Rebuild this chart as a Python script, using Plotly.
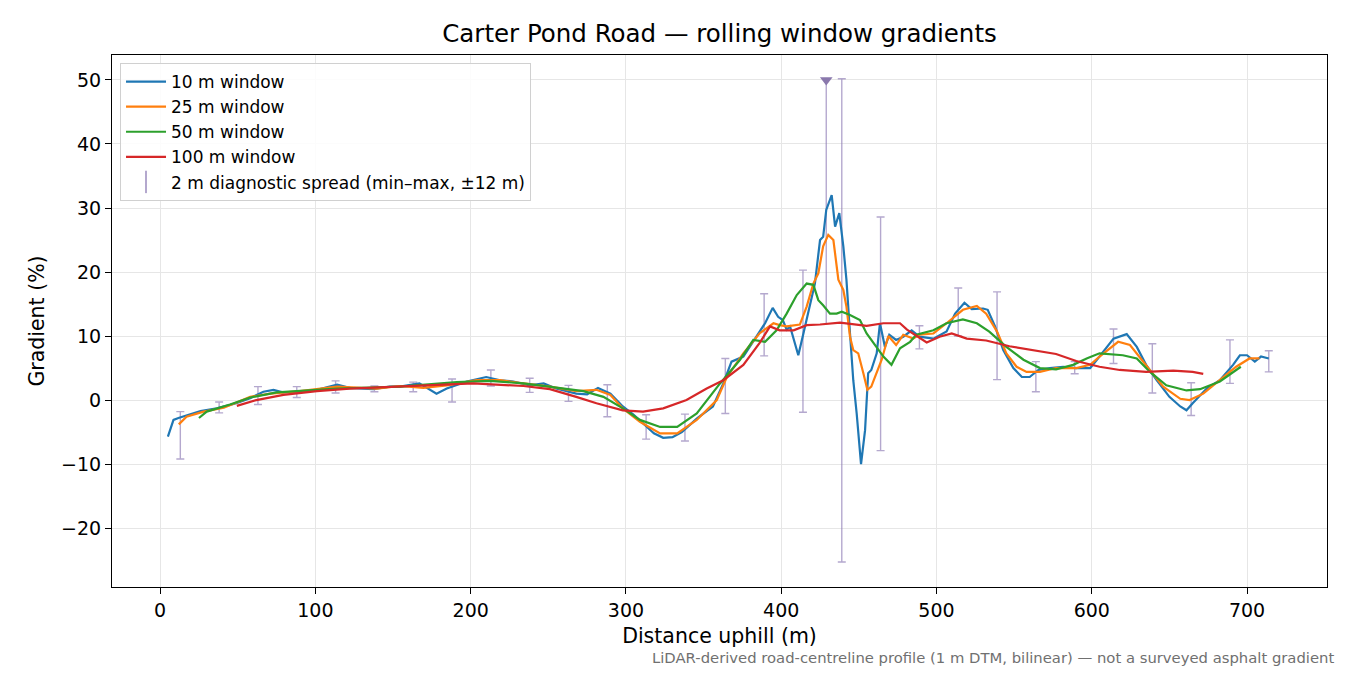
import plotly.graph_objects as go

# rolling window gradients (%)
x_10 = [5, 8.6, 11.8, 19, 26, 36.5, 49, 58, 66.5, 73, 79, 90, 101, 114, 122, 137, 148, 154.5,
        167, 178, 184.6, 197.5, 210, 219, 227.5, 238, 247, 255, 268, 275, 282, 290, 298, 305,
        312, 318, 324, 330, 336, 345.6, 356, 362.7, 368, 375.6, 384, 389.6, 394.5, 398, 401,
        403.5, 405.7, 408, 411, 414.3, 418.5, 421.7, 425, 427, 429, 432.5, 434.7, 437.4, 440,
        442, 444.3, 446.4, 448.6, 451.4, 454, 456, 458, 461.5, 463.6, 466.8, 469.6, 474, 478.6,
        484, 489, 498, 506.5, 512, 518, 522.7, 530, 533, 537.7, 543, 549.5, 555, 560, 565.6,
        573, 581.6, 590, 599, 605, 614, 622.5, 629, 635, 641.8, 650, 657, 661, 665, 674, 682.5,
        691, 695.4, 700, 705, 709, 714]
g_10 = [-5.7, -3.1, -2.8, -2.3, -1.7, -1.3, -0.5, 0.3, 1.3, 1.6, 1.2, 1.3, 1.6, 2.4, 1.9, 1.7,
        2.1, 2.1, 2.6, 1.0, 1.8, 2.9, 3.6, 3.1, 2.9, 2.3, 2.6, 1.8, 1.0, 0.9, 1.9, 1.0, -1.0,
        -2.3, -3.8, -5.2, -5.9, -5.8, -5.0, -2.9, -1.0, 2.6, 6.0, 6.8, 9.9, 12.0, 14.4, 13.0,
        12.5, 11.0, 11.5, 9.4, 7.0, 10.4, 14.6, 18.2, 25.0, 25.5, 29.7, 32.0, 27.1, 29.2, 24.0,
        18.8, 10.4, 3.1, -2.1, -10.0, -4.7, 4.2, 4.7, 7.3, 12.0, 8.3, 10.2, 9.4, 9.9, 10.9,
        9.9, 9.6, 10.7, 13.5, 15.2, 14.2, 14.3, 14.1, 11.5, 7.8, 5.0, 3.6, 3.6, 4.7, 5.0, 5.2,
        5.0, 5.0, 6.8, 9.6, 10.3, 8.3, 5.5, 3.1, 0.5, -1.0, -1.6, -0.5, 1.8, 3.1, 5.5, 7.0,
        7.0, 6.0, 6.8, 6.5]

x_25 = [12, 17, 28, 41, 58, 71, 90, 114, 139.5, 154.5, 169.5, 184.6, 204, 219, 234, 251, 268,
        281, 290, 298, 309, 322, 333, 345.6, 358.5, 365, 375.6, 386, 395, 399, 403.5, 412,
        416.4, 420.7, 423.9, 427, 430.3, 433.6, 436.8, 440, 442, 444.3, 446.4, 449.6, 452.9,
        455.5, 458, 461.5, 464.7, 469, 474, 478.6, 485, 489, 498, 506.5, 517, 526, 532, 539,
        545, 551.6, 558, 566.6, 577, 590, 599, 605, 617, 624.6, 635, 646, 657, 663, 671.8,
        682.5, 693, 701.6, 708]
g_25 = [-3.8, -2.6, -1.8, -1.2, 0.5, 1.0, 1.4, 2.1, 1.8, 2.2, 1.9, 2.3, 3.1, 3.1, 2.6, 2.1, 1.4,
        1.6, 0.8, -1.3, -3.4, -5.2, -5.2, -3.1, 0.0, 3.6, 7.3, 10.4, 12.0, 11.7, 11.5, 11.8,
        14.6, 18.2, 19.8, 24.0, 25.8, 25.0, 18.8, 17.2, 14.6, 9.9, 7.8, 7.3, 4.2, 1.6, 2.1,
        4.2, 6.3, 10.0, 8.6, 10.2, 9.6, 10.2, 10.4, 12.0, 14.1, 14.7, 13.5, 10.7, 7.3, 5.2,
        4.4, 4.4, 5.0, 5.0, 5.5, 6.8, 9.1, 8.6, 5.5, 2.1, 0.2, 0.0, 1.0, 3.1, 5.2, 6.5, 6.5]

x_50 = [25, 30, 45, 58, 75, 90, 114, 139.5, 154.5, 191, 212.5, 234, 255, 272.6, 285.5, 298, 309,
        322, 333, 345.6, 360.6, 373.5, 382, 389.6, 397, 403.5, 410, 416.4, 420.7, 423.9, 427,
        431.4, 435.7, 439, 444.3, 450.7, 455, 461.5, 465.8, 471, 476.5, 483, 487, 498, 506.5,
        517, 526, 534, 545, 556, 566.6, 577, 588, 596.7, 605, 620, 629, 637.5, 648, 661, 669.7,
        682.5, 693, 696]
g_50 = [-2.8, -1.8, -0.7, 0.4, 1.2, 1.4, 1.8, 2.0, 2.1, 2.8, 3.0, 2.6, 1.9, 1.4, 0.5, -1.3, -3.1,
        -4.2, -4.2, -2.1, 2.6, 6.3, 9.4, 9.1, 10.9, 13.5, 16.4, 18.2, 18.0, 15.6, 14.8, 13.5,
        13.5, 13.8, 13.3, 12.5, 10.4, 8.3, 6.8, 5.5, 8.1, 9.1, 10.2, 10.9, 12.0, 12.6, 12.0,
        10.7, 8.3, 6.3, 5.0, 4.8, 5.5, 6.5, 7.3, 7.0, 6.5, 4.4, 2.3, 1.5, 1.7, 2.9, 4.7, 5.2]

x_100 = [49.4, 62, 79.4, 101, 122, 154.5, 169.5, 201.7, 234, 251, 268, 281, 298, 311, 324, 339,
         352, 362.7, 375.6, 386, 392.8, 399, 408, 416.4, 425, 437.9, 455, 465.8, 470, 476.5,
         481, 487, 493.7, 502, 509.8, 519.5, 532, 547, 562, 577, 590, 605, 618, 635, 652.5,
         665, 671.8]
g_100 = [-0.9, 0.0, 0.8, 1.4, 1.8, 2.1, 2.3, 2.6, 2.2, 1.7, 0.5, -0.5, -1.6, -1.8, -1.3, 0.0,
         1.8, 3.1, 5.5, 8.9, 11.5, 10.9, 10.9, 11.7, 11.8, 12.1, 11.6, 12.0, 12.0, 12.0, 11.0,
         10.0, 9.0, 9.9, 10.4, 9.6, 9.3, 8.4, 7.8, 7.2, 6.1, 5.2, 4.7, 4.4, 4.6, 4.4, 4.1]

# 2 m diagnostic spread (min / max within +-12 m)
spread_x = [13, 38, 63, 88, 113, 138, 163, 188, 213, 238, 263, 288, 313, 338, 364, 389, 414,
            439, 464, 489, 514, 539, 564, 589, 614, 639, 664, 689, 714]
spread_hi = [-1.8, -0.3, 2.1, 2.1, 3.0, 2.2, 2.8, 3.3, 4.7, 3.4, 2.3, 2.4, -2.3, -2.2, 6.5, 16.6,
             20.3, 50.2, 28.6, 11.6, 17.5, 16.9, 6.0, 6.0, 11.1, 8.8, 2.7, 9.4, 7.7]
spread_lo = [-9.2, -2.0, -0.7, 0.4, 1.1, 1.3, 1.3, -0.3, 2.2, 1.2, -0.2, -2.6, -6.1, -6.4, -2.1,
             6.9, -1.9, -25.3, -7.9, 8.0, 10.0, 3.2, 1.3, 4.1, 5.7, 1.1, -2.4, 2.6, 4.4]

# off-scale spike, clipped at the top of the axis
spike_x = [429]
spike_lo = [12.0]
spike_top = [50.0]

series = [
    ("10 m window", x_10, g_10, "#1f77b4"),
    ("25 m window", x_25, g_25, "#ff7f0e"),
    ("50 m window", x_50, g_50, "#2ca02c"),
    ("100 m window", x_100, g_100, "#d62728"),
]
spread_col = "rgba(140,122,180,0.65)"

fig = go.Figure()

mid = [(a + b) / 2 for a, b in zip(spread_lo, spread_hi)]
fig.add_trace(go.Scatter(
    x=spread_x, y=mid, mode="markers", showlegend=False, hoverinfo="skip",
    marker=dict(size=1, opacity=0),
    error_y=dict(type="data", symmetric=False,
                 array=[h - m for h, m in zip(spread_hi, mid)],
                 arrayminus=[m - l for m, l in zip(mid, spread_lo)],
                 color=spread_col, thickness=1.4, width=4)))

fig.add_trace(go.Scatter(
    x=spike_x, y=spike_top, mode="markers", showlegend=False,
    marker=dict(symbol="triangle-down", size=11, color="#8a78ac"),
    error_y=dict(type="data", symmetric=False, array=[0],
                 arrayminus=[t - l for t, l in zip(spike_top, spike_lo)],
                 color=spread_col, thickness=1.4, width=0)))

for name, xs, ys, col in series:
    fig.add_trace(go.Scatter(x=xs, y=ys, mode="lines", name=name,
                             legendgroup=name, line=dict(color=col, width=2.2)))

# legend-only entry for the spread bars
fig.add_trace(go.Scatter(
    x=[None], y=[None], mode="markers", name="2 m diagnostic spread (min–max, ±12 m)",
    legendgroup="spread",
    marker=dict(symbol="line-ns-open", size=16, color=spread_col,
                line=dict(color=spread_col, width=2))))

axis_common = dict(showline=True, linecolor="black", linewidth=1.2, mirror=True,
                   ticks="outside", ticklen=6, tickcolor="black", tickwidth=1.2,
                   showgrid=True, gridcolor="#e6e6e6", gridwidth=1, zeroline=False,
                   tickfont=dict(size=19, color="black"))

# page body has an 8 px margin, so the figure is sized/offset to land on the reference frame
W, H = 1334, 659

fig.update_layout(
    width=W, height=H,
    margin=dict(l=104, r=15, t=47, b=80),
    paper_bgcolor="white", plot_bgcolor="white",
    font=dict(family="DejaVu Sans", color="black"),
    title=dict(text="Carter Pond Road — rolling window gradients",
               x=0.5, xref="paper", y=1 - 25 / H, yref="container",
               xanchor="center", yanchor="middle", font=dict(size=24.5)),
    xaxis=dict(range=[-31, 751.5], tickmode="array",
               tickvals=[0, 100, 200, 300, 400, 500, 600, 700],
               title=dict(text="Distance uphill (m)", font=dict(size=20.5), standoff=8),
               **axis_common),
    yaxis=dict(range=[-29.2, 53.9], tickmode="array",
               tickvals=[-20, -10, 0, 10, 20, 30, 40, 50],
               title=dict(text="Gradient (%)", font=dict(size=20.5), standoff=10),
               **axis_common),
    legend=dict(x=0.0066, y=0.985, xanchor="left", yanchor="top",
                bgcolor="rgba(255,255,255,0.85)", bordercolor="#d0d0d0", borderwidth=1,
                font=dict(size=17), tracegroupgap=0, itemwidth=40),
    annotations=[dict(
        text="LiDAR-derived road-centreline profile (1 m DTM, bilinear) — not a surveyed asphalt gradient",
        xref="paper", yref="paper", x=(1336 - 112) / 1215, y=(587 - 657) / 532,
        xanchor="right", yanchor="middle", showarrow=False,
        font=dict(size=14.8, color="#707070"))],
)

fig.write_html("out.html")
